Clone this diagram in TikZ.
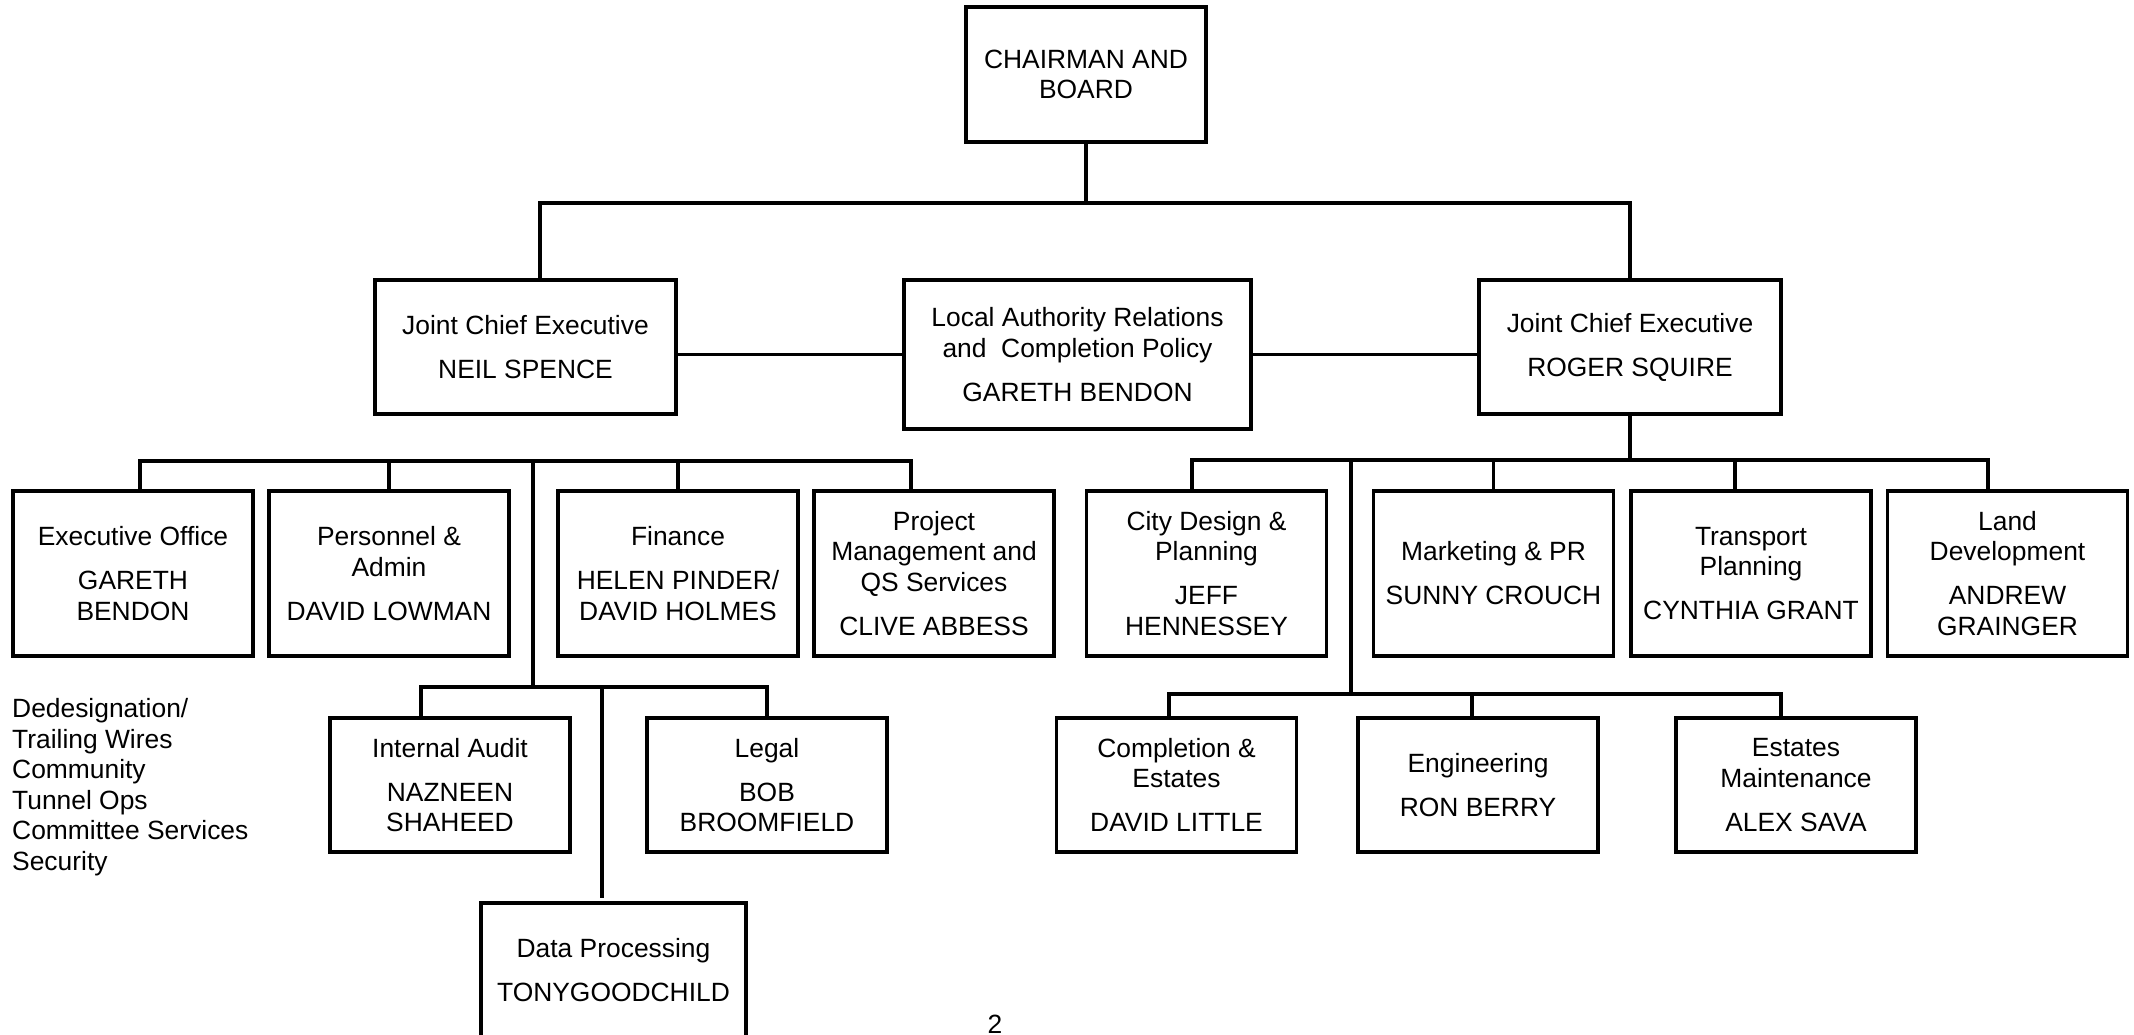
\documentclass[tikz,border=0pt]{standalone}
\usepackage{fontspec}
\setmainfont{Liberation Sans}
\begin{document}
\begin{tikzpicture}[x=1pt,y=-1pt,
  box/.style={draw, line width=3.3pt, rectangle, align=center, inner sep=0pt,
    font=\fontsize{26.4}{30.4}\selectfont},
  rowtwo/.style={box, minimum width=240pt, minimum height=165pt},
  rowthree/.style={box, minimum width=240pt, minimum height=134pt},
  conn/.style={line width=3.2pt},
  plain/.style={inner sep=0pt, font=\fontsize{26.4}{30.4}\selectfont}]
\useasboundingbox (0,0) rectangle (2134,1035);

% top level
\node[box, minimum width=240pt, minimum height=135pt] (chair) at (1086,74.5) {CHAIRMAN AND\\BOARD};
\node[box, minimum width=301pt, minimum height=134pt] (jcel) at (525.5,347) {Joint Chief Executive\\[13.6pt]NEIL SPENCE};
\node[box, minimum width=347pt, minimum height=149pt] (la) at (1077.5,354.5) {Local Authority Relations\\and\ \ Completion Policy\\[13.6pt]GARETH BENDON};
\node[box, minimum width=302pt, minimum height=134pt] (jcer) at (1630,347) {Joint Chief Executive\\[13.6pt]ROGER SQUIRE};

% second row
\node[rowtwo] (exo) at (133,573.5) {Executive Office\\[13.6pt]GARETH\\BENDON};
\node[rowtwo] (pers) at (389,573.5) {Personnel \&\\Admin\\[13.6pt]DAVID LOWMAN};
\node[rowtwo] (fin) at (678,573.5) {Finance\\[13.6pt]HELEN PINDER/\\DAVID HOLMES};
\node[rowtwo] (pm) at (934,573.5) {Project\\Management and\\QS Services\\[13.6pt]CLIVE ABBESS};
\node[rowtwo] (city) at (1206.5,573.5) {City Design \&\\Planning\\[13.6pt]JEFF\\HENNESSEY};
\node[rowtwo] (mkt) at (1493.5,573.5) {Marketing \& PR\\[13.6pt]SUNNY CROUCH};
\node[rowtwo] (trans) at (1751,573.5) {Transport\\Planning\\[13.6pt]CYNTHIA GRANT};
\node[rowtwo] (land) at (2007.5,573.5) {Land\\Development\\[13.6pt]ANDREW\\GRAINGER};

% third row
\node[rowthree] (ia) at (450,785) {Internal Audit\\[13.6pt]NAZNEEN\\SHAHEED};
\node[rowthree] (legal) at (767,785) {Legal\\[13.6pt]BOB\\BROOMFIELD};
\node[rowthree] (comp) at (1176.5,785) {Completion \&\\Estates\\[13.6pt]DAVID LITTLE};
\node[rowthree] (eng) at (1478,785) {Engineering\\[13.6pt]RON BERRY};
\node[rowthree] (est) at (1796,785) {Estates\\Maintenance\\[13.6pt]ALEX SAVA};
\node[box, minimum width=265pt, minimum height=134pt] (dp) at (613.5,970) {Data Processing\\[13.6pt]TONYGOODCHILD};

% connector coordinates
\coordinate (tA) at (540,203);
\coordinate (tB) at (1630,203);
\coordinate (lb1) at (140,461);
\coordinate (lb5) at (911,461);
\coordinate (lt) at (533,461);
\coordinate (lt2) at (533,687);
\coordinate (lc1) at (421,687);
\coordinate (lc3) at (767,687);
\coordinate (ldp) at (602,687);
\coordinate (ldpend) at (602,898);
\coordinate (rb1) at (1192,460);
\coordinate (rb5) at (1988,460);
\coordinate (rtr) at (1735,460);
\coordinate (rt) at (1351,460);
\coordinate (rt2) at (1351,694);
\coordinate (rc1) at (1169,694);
\coordinate (rc2) at (1472,694);
\coordinate (rc3) at (1781,694);

% connectors
\draw[conn] (chair.south) -- (chair.south |- tA);
\draw[conn] (jcel.north -| tA) -- (tA) -- (tB) -- (jcer.north);
\draw[conn] (jcel.east |- la.west) -- (la.west);
\draw[conn] (la.east) -- (jcer.west |- la.east);

\draw[conn] (exo.north -| lb1) -- (lb1) -- (lb5) -- (pm.north -| lb5);
\draw[conn] (pers.north) -- (pers.north |- lb1);
\draw[conn] (fin.north) -- (fin.north |- lb1);
\draw[conn] (lt) -- (lt2);
\draw[conn] (ia.north -| lc1) -- (lc1) -- (lc3) -- (legal.north);
\draw[conn] (ldp) -- (ldpend);

\draw[conn] (jcer.south) -- (jcer.south |- rb1);
\draw[conn] (city.north -| rb1) -- (rb1) -- (rb5) -- (land.north -| rb5);
\draw[conn] (mkt.north) -- (mkt.north |- rb1);
\draw[conn] (trans.north -| rtr) -- (rtr);
\draw[conn] (rt) -- (rt2);
\draw[conn] (comp.north -| rc1) -- (rc1) -- (rc3) -- (est.north -| rc3);
\draw[conn] (eng.north -| rc2) -- (rc2);

% side list
\node[plain, anchor=base west] (s1) at (12,717) {Dedesignation/};
\node[plain, anchor=base west] (s2) at (12,748) {Trailing Wires};
\node[plain, anchor=base west] (s3) at (12,778) {Community};
\node[plain, anchor=base west] (s4) at (12,809) {Tunnel Ops};
\node[plain, anchor=base west] (s5) at (12,839) {Committee Services};
\node[plain, anchor=base west] (s6) at (12,870) {Security};

% page number
\node[plain, anchor=base] (pg) at (995,1033) {2};
\end{tikzpicture}
\end{document}
